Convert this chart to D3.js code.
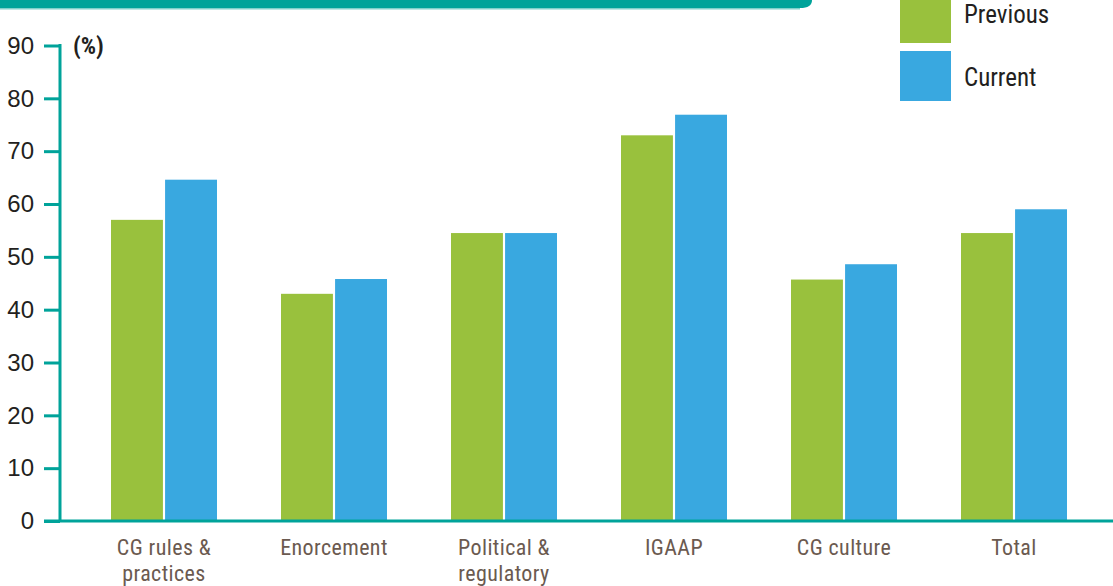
<!DOCTYPE html>
<html><head><meta charset="utf-8">
<script src="https://cdn.jsdelivr.net/npm/d3@7"></script>
<style>
html,body{margin:0;padding:0;background:#fff;}
svg{display:block;font-family:"Liberation Sans Narrow","Roboto Condensed","Arial Narrow",sans-serif;}
</style></head>
<body><svg id="c" width="1113" height="586"></svg>
<script>
const categories = [["CG rules &","practices"],["Enorcement"],["Political &","regulatory"],["IGAAP"],["CG culture"],["Total"]];
const previous = [57, 43, 54.5, 73, 45.7, 54.5];
const current = [64.6, 45.8, 54.5, 76.9, 48.6, 59];
const seriesNames = ["Previous","Current"];
const yTicks = [0,10,20,30,40,50,60,70,80,90];

const svg = d3.select("#c");
const teal = "#00a39a", green = "#99c13d", blue = "#39a8e0";

// header band
svg.append("path").attr("d","M0,0 H812 Q812,8 800,8 H0 Z").attr("fill",teal);
svg.append("rect").attr("x",0).attr("y",8).attr("width",800).attr("height",1.5).attr("fill","#7fd0cb");

const y = d3.scaleLinear().domain([0,90]).range([521,45.5]);
const x0 = d3.scaleBand().domain(d3.range(categories.length)).range([79,1099]).padding(0);
const x1 = d3.scaleBand().domain([0,1]).range([0,106]).paddingInner(0.04);

// bars
const g = svg.append("g");
const groups = g.selectAll("g").data(categories.map((c,i)=>[previous[i],current[i]]))
  .join("g").attr("transform",(d,i)=>`translate(${x0(i)+x0.bandwidth()/2-53},0)`);
groups.selectAll("rect").data(d=>d).join("rect")
  .attr("x",(d,j)=>x1(j)).attr("width",x1.bandwidth())
  .attr("y",d=>y(d)).attr("height",d=>y(0)-y(d))
  .attr("fill",(d,j)=>j===0?green:blue);

// y axis
const yAxis = d3.axisLeft(y).tickValues(yTicks).tickSize(16).tickPadding(10);
const ya = svg.append("g").attr("transform","translate(60,0)").call(yAxis);
ya.select(".domain").remove();
ya.selectAll(".tick line").attr("stroke",teal).attr("stroke-width",3);
ya.selectAll(".tick text").attr("font-size",24).attr("font-weight","normal").attr("fill","#231f20").attr("font-family","inherit");
svg.append("line").attr("x1",60).attr("x2",60).attr("y1",44).attr("y2",522).attr("stroke",teal).attr("stroke-width",3);
svg.append("line").attr("x1",44).attr("x2",1113).attr("y1",521).attr("y2",521).attr("stroke",teal).attr("stroke-width",3);
svg.append("text").attr("x",73).attr("y",54).attr("font-size",24).attr("font-weight","bold").attr("fill","#231f20").text("(%)");

// category labels
const cl = svg.append("g");
categories.forEach((lines,i)=>{
  lines.forEach((l,k)=>cl.append("text").attr("x",x0(i)+x0.bandwidth()/2).attr("y",555+k*26)
    .attr("text-anchor","middle").attr("font-size",22).attr("letter-spacing",0.4).attr("fill","#6b5a50").text(l));
});

// legend
const lg = svg.append("g");
const lgY = [-8,51];
const lgTextY = [23,86];
seriesNames.forEach((n,i)=>{
  lg.append("rect").attr("x",900).attr("y",lgY[i]).attr("width",51).attr("height",i===0?51:50).attr("fill",i===0?green:blue);
  lg.append("text").attr("x",964).attr("y",lgTextY[i]).attr("font-size",25).attr("fill","#231f20").text(n);
});
</script></body></html>
